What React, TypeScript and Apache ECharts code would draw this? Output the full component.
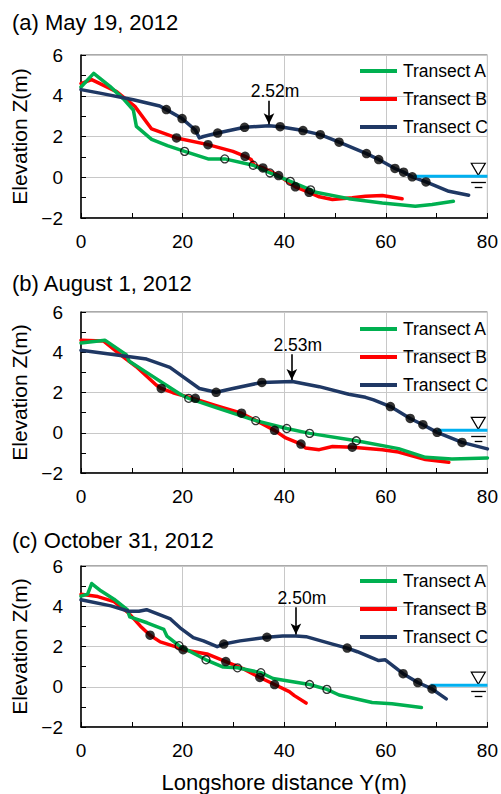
import React, { useEffect, useRef } from 'react';
import * as echarts from 'echarts';

// ---------- data ----------
const panelTitles = ['(a) May 19, 2012', '(b) August 1, 2012', '(c) October 31, 2012'];
const peakLabels = ['2.52m', '2.53m', '2.50m'];
const seriesNames = ['Transect A', 'Transect B', 'Transect C'];

// Panel (a)
const lineA_a = [[0,4.43],[2.5,5.1],[5.7,4.46],[8.3,3.86],[10.3,3.3],[10.9,2.5],[13.9,1.86],[17,1.55],[20.4,1.27],[25,0.9],[28.3,0.9],[33.9,0.59],[37.2,0.21],[41.2,-0.2],[45.2,-0.62],[46.2,-0.74],[52.7,-1.05],[59.3,-1.26],[65.8,-1.42],[69.1,-1.34],[73.3,-1.18]];
const lineB_a = [[0,4.6],[2.1,4.79],[7,4.2],[10.6,3.48],[13.9,2.37],[18.8,1.93],[25,1.6],[29.9,1.27],[32.3,1.03],[33.5,0.87],[34.1,0.59],[35.8,0.46],[38.9,0.08],[42.2,-0.47],[44.9,-0.74],[46.9,-0.96],[49.5,-1.09],[53.4,-1.01],[56,-0.93],[59.3,-0.9],[63.2,-1.06]];
const lineC_a = [[0,4.3],[3.7,4.13],[10.3,3.8],[15.5,3.5],[16.8,3.32],[19.9,2.88],[22.5,2.32],[23.3,1.93],[24.1,2.0],[26.9,2.17],[32.2,2.45],[37,2.53],[39.2,2.48],[43.7,2.29],[47.1,2.09],[50.8,1.72],[56.2,1.16],[58.6,0.87],[61.8,0.43],[63.5,0.25],[65.2,0.02],[67.9,-0.23],[72.4,-0.69],[76.3,-0.88]];
const markA_a = [[20.4,1.27],[28.3,0.9],[33.9,0.59],[37.2,0.21],[41.2,-0.2],[45.2,-0.62]];
const markB_a = [[18.8,1.93],[25,1.6],[32.3,1.03],[35.8,0.46],[38.9,0.08],[42.2,-0.47],[44.9,-0.74]];
const markC_a = [[16.8,3.32],[19.9,2.88],[22.5,2.32],[26.9,2.17],[32.2,2.45],[39.2,2.48],[43.7,2.29],[47.1,2.09],[50.8,1.72],[56.2,1.16],[58.6,0.87],[61.8,0.43],[63.5,0.25],[65.2,0.02],[67.9,-0.23]];
const water_a = [[65.5,0.05],[80,0.05]];

// Panel (b)
const lineA_b = [[0,4.46],[4.7,4.6],[8.9,3.88],[9.5,3.55],[12.9,3.0],[16.1,2.47],[19.7,1.89],[21.2,1.71],[26.6,1.25],[34.4,0.6],[40.5,0.21],[45,-0.03],[54.2,-0.4],[62.5,-0.79],[67.8,-1.22],[73,-1.3],[80,-1.25]];
const lineB_b = [[0,4.6],[4.4,4.56],[8.3,3.77],[10.9,3.28],[14.8,2.37],[15.8,2.2],[18.1,1.99],[22.7,1.66],[26.6,1.35],[31.6,0.97],[35.8,0.43],[38.1,0.12],[40.3,-0.26],[43.3,-0.56],[44.2,-0.76],[46.9,-0.84],[49.5,-0.68],[53.4,-0.72],[59.3,-0.84],[62.5,-0.96],[67.8,-1.33],[72.4,-1.47]];
const lineC_b = [[0,4.1],[6.3,3.89],[12.9,3.66],[17.5,3.25],[23.3,2.2],[26.6,2.01],[29.9,2.2],[35.6,2.5],[41.6,2.55],[46.9,2.29],[52.7,1.91],[56,1.76],[57.6,1.63],[60.9,1.3],[64.8,0.71],[67.3,0.4],[70.1,0.02],[75,-0.48],[80,-0.8]];
const markA_b = [[21.2,1.71],[34.4,0.6],[40.5,0.21],[45,-0.03],[54.2,-0.4]];
const markB_b = [[15.8,2.2],[22.5,1.71],[31.6,0.97],[38.1,0.12],[43.3,-0.56],[53.4,-0.72]];
const markC_b = [[26.6,2.01],[35.6,2.5],[60.9,1.3],[64.8,0.71],[67.3,0.4],[70.1,0.02],[75,-0.48]];
const water_b = [[70.2,0.12],[80,0.12]];

// Panel (c)
const lineA_c = [[0,4.5],[1.3,4.6],[2.1,5.13],[3.9,4.77],[6.5,4.35],[9.1,3.83],[9.6,3.47],[13,3.18],[16.3,2.85],[16.9,2.52],[19.3,2.04],[24.6,1.34],[28,0.98],[30.8,0.94],[35.4,0.7],[37.8,0.41],[45,0.11],[48.4,-0.13],[50.8,-0.41],[57.3,-0.78],[61.2,-0.85],[67,-1.03]];
const lineB_c = [[0,4.6],[3.3,4.48],[6.5,4.23],[9.4,3.66],[11.7,3.01],[13.6,2.56],[15.6,2.23],[19.5,1.92],[20.1,1.84],[24.8,1.63],[28.5,1.25],[31.9,0.9],[35.2,0.46],[38.1,0.11],[41,-0.24],[42,-0.44],[44.3,-0.81]];
const lineC_c = [[0,4.32],[5.9,4.02],[9.4,3.75],[11.4,3.75],[12.9,3.83],[17.6,3.37],[19.5,2.93],[22.1,2.44],[24.1,2.28],[26.8,1.99],[28.1,2.12],[31.3,2.28],[36.6,2.46],[39.7,2.52],[42.3,2.52],[44.3,2.49],[49.5,2.12],[52.4,1.92],[54.4,1.74],[58.6,1.3],[59.9,1.34],[63.4,0.65],[66.3,0.21],[69.1,-0.11],[71.9,-0.6]];
const markA_c = [[19.3,2.04],[24.6,1.34],[30.8,0.94],[35.4,0.7],[45,0.11],[48.4,-0.13]];
const markB_c = [[13.6,2.56],[20.1,1.84],[28.5,1.25],[35.2,0.46],[38.1,0.11]];
const markC_c = [[28.1,2.12],[36.6,2.46],[52.4,1.92],[63.4,0.65],[66.3,0.21],[69.1,-0.11]];
const water_c = [[68.8,0.08],[80,0.08]];

const panels = [
  { A: lineA_a, B: lineB_a, C: lineC_a, mA: markA_a, mB: markB_a, mC: markC_a, water: water_a },
  { A: lineA_b, B: lineB_b, C: lineC_b, mA: markA_b, mB: markB_b, mC: markC_b, water: water_b },
  { A: lineA_c, B: lineB_c, C: lineC_c, mA: markA_c, mB: markB_c, mC: markC_c, water: water_c },
];

// annotation placement (peak arrows), per panel
const arrowX = [37, 41.5, 42.3];
const arrowTop = [3.75, 3.9, 3.95];
const arrowTip = [2.6, 2.62, 2.6];

// ---------- styles ----------
const FONT = "'Liberation Sans', Arial, sans-serif";
const GREEN = '#00B050';
const RED = '#FF0000';
const NAVY = '#1F3864';
const CYAN = '#00B0F0';
const gridTops = [55, 312, 566];
const gridHeights = [163, 161, 163];
const legendTops = [62, 320, 572];
const titleTops = [12, 273, 530];

export default function App() {
  const ref = useRef<HTMLDivElement>(null);
  useEffect(() => {
    if (!ref.current) return;
    const chart = echarts.init(ref.current, undefined, { renderer: 'svg' });

    const grids: any[] = [];
    const xAxes: any[] = [];
    const yAxes: any[] = [];
    const titles: any[] = [];
    const legends: any[] = [];
    const series: any[] = [];

    panels.forEach((p, i) => {
      grids.push({
        left: 81, width: 408, top: gridTops[i], height: gridHeights[i],
        show: true, borderColor: '#555', borderWidth: 1, backgroundColor: 'transparent',
      });
      xAxes.push({
        type: 'value', gridIndex: i, min: 0, max: 80, interval: 20,
        axisLine: { show: true, onZero: false, lineStyle: { color: '#000', width: 1.5 } },
        axisTick: { show: true, inside: true, length: 5, lineStyle: { color: '#000' } },
        minorTick: { show: true, splitNumber: 2, length: 5, lineStyle: { color: '#000' } },
        splitLine: { show: true, lineStyle: { color: '#c8c8c8', width: 1 } },
        axisLabel: { fontSize: 19, color: '#000', fontFamily: FONT, margin: 14 },
        name: i === 2 ? 'Longshore distance Y(m)' : '',
        nameLocation: 'middle', nameGap: 44,
        nameTextStyle: { fontSize: 22, color: '#000', fontFamily: FONT },
      });
      yAxes.push({
        type: 'value', gridIndex: i, min: -2, max: 6, interval: 2,
        axisLine: { show: true, onZero: false, lineStyle: { color: '#000', width: 1.5 } },
        axisTick: { show: true, inside: true, length: 5, lineStyle: { color: '#000' } },
        minorTick: { show: true, splitNumber: 2, length: 5, lineStyle: { color: '#000' } },
        splitLine: { show: true, lineStyle: { color: '#c8c8c8', width: 1 } },
        axisLabel: {
          fontSize: 19, color: '#000', fontFamily: FONT, margin: 18,
          formatter: (v: number) => (v < 0 ? '\u2212' + Math.abs(v) : String(v)),
        },
        name: 'Elevation Z(m)', nameLocation: 'middle', nameGap: 48, nameRotate: 90,
        nameTextStyle: { fontSize: 21, color: '#000', fontFamily: FONT },
      });
      titles.push({
        text: panelTitles[i], left: 12, top: titleTops[i] - 1, padding: 0,
        textStyle: { fontSize: 22, fontWeight: 'normal', color: '#000', fontFamily: FONT },
      });
      legends.push({
        data: seriesNames, orient: 'vertical', left: 360, top: legendTops[i], padding: 0,
        icon: 'rect', itemWidth: 37, itemHeight: 4, itemGap: 10,
        textStyle: { fontSize: 17.5, color: '#000', fontFamily: FONT, lineHeight: 18, padding: [0, 0, 0, 1] },
        selectedMode: false,
      });

      const lineCommon = (name: string, data: number[][], color: string, z: number) => ({
        name, type: 'line', xAxisIndex: i, yAxisIndex: i, data,
        showSymbol: false, symbol: 'none', color, z,
        itemStyle: { color },
        lineStyle: { color, width: 3.5, join: 'round', cap: 'round' },
        silent: true,
      });

      series.push(lineCommon('Transect B', p.B, RED, 2));
      series.push(lineCommon('Transect A', p.A, GREEN, 3));
      const cSeries: any = lineCommon('Transect C', p.C, NAVY, 4);
      cSeries.markLine = {
        silent: true, symbol: ['none', 'arrow'], symbolSize: [8, 11],
        lineStyle: { color: '#000', width: 1.6, type: 'solid' },
        label: { show: false },
        data: [[{ coord: [arrowX[i], arrowTop[i]] }, { coord: [arrowX[i], arrowTip[i]] }]],
      };
      cSeries.markPoint = {
        silent: true, symbol: 'rect', symbolSize: 1, itemStyle: { color: 'rgba(0,0,0,0)' },
        label: {
          show: true, position: 'top', distance: 0, offset: [6, 0],
          formatter: peakLabels[i], fontSize: 17.5, color: '#000', fontFamily: FONT,
        },
        data: [{ coord: [arrowX[i], arrowTop[i]] }],
      };
      series.push(cSeries);

      const lvl = p.water[0][1];
      series.push({
        name: 'Water level', type: 'line', xAxisIndex: i, yAxisIndex: i, data: p.water,
        showSymbol: false, symbol: 'none', z: 5, silent: true,
        lineStyle: { color: CYAN, width: 3 },
        markPoint: {
          silent: true,
          symbol: 'triangle', symbolRotate: 180, symbolSize: [14, 12], symbolOffset: [0, -7],
          itemStyle: { color: '#fff', borderColor: '#000', borderWidth: 1.2 },
          label: { show: false },
          data: [{ coord: [78.2, lvl] }],
        },
        markLine: {
          silent: true, symbol: ['none', 'none'],
          lineStyle: { color: '#000', width: 1.3, type: 'solid' },
          label: { show: false },
          data: [
            [{ coord: [76.8, lvl - 0.3] }, { coord: [79.7, lvl - 0.3] }],
            [{ coord: [77.5, lvl - 0.55] }, { coord: [79.0, lvl - 0.55] }],
          ],
        },
      });

      series.push({
        name: 'A points', type: 'scatter', xAxisIndex: i, yAxisIndex: i, data: p.mA,
        symbol: 'circle', symbolSize: 8, z: 6, silent: true,
        itemStyle: { color: 'rgba(0,0,0,0)', borderColor: '#000', borderWidth: 1.3 },
      });
      series.push({
        name: 'B points', type: 'scatter', xAxisIndex: i, yAxisIndex: i, data: p.mB,
        symbol: 'circle', symbolSize: 9.5, z: 6, silent: true,
        itemStyle: { color: '#000' },
      });
      series.push({
        name: 'C points', type: 'scatter', xAxisIndex: i, yAxisIndex: i, data: p.mC,
        symbol: 'circle', symbolSize: 9.5, z: 6, silent: true,
        itemStyle: { color: '#000' },
      });
    });

    chart.setOption({
      animation: false,
      backgroundColor: '#fff',
      textStyle: { fontFamily: FONT },
      title: titles,
      legend: legends,
      grid: grids,
      xAxis: xAxes,
      yAxis: yAxes,
      series,
    });
    return () => chart.dispose();
  }, []);

  return (
    <div
      ref={ref}
      style={{ position: 'fixed', left: 0, top: 0, width: 501, height: 794, background: '#fff' }}
    />
  );
}
